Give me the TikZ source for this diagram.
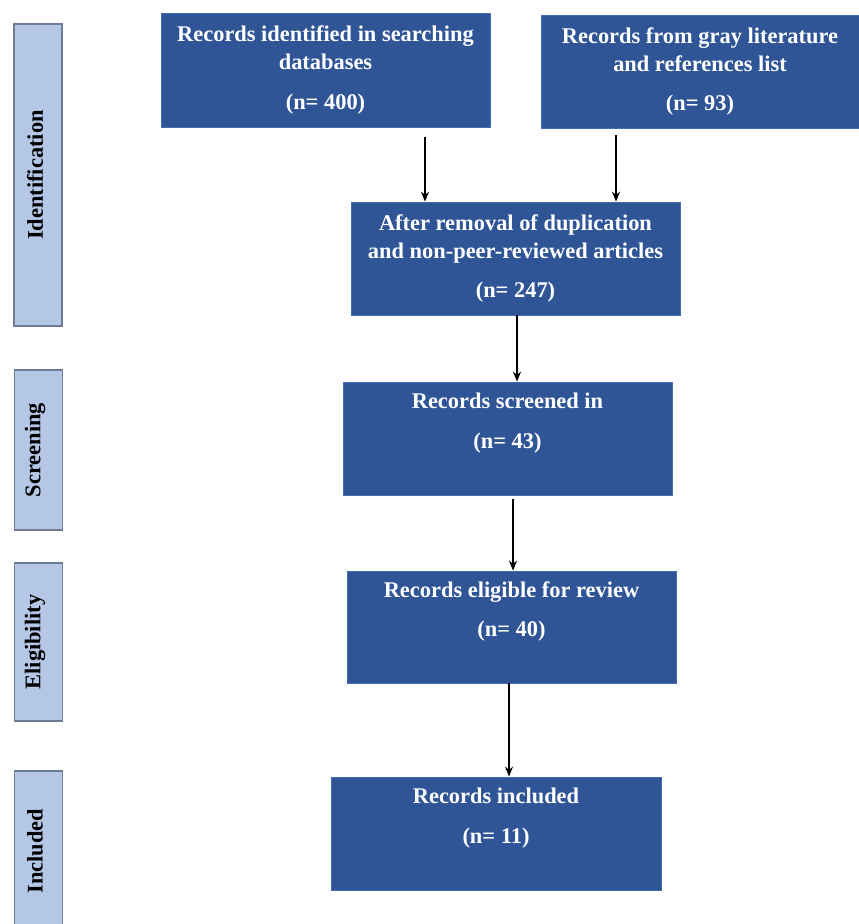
\documentclass[tikz,border=0pt]{standalone}
\usepackage{fontspec}
\setmainfont{Liberation Serif}
\usetikzlibrary{arrows.meta}
\definecolor{boxblue}{RGB}{47,85,151}
\definecolor{boxedge}{RGB}{68,108,180}
\definecolor{sidefill}{RGB}{180,199,231}
\definecolor{sideedge}{RGB}{110,124,150}
\begin{document}
\begin{tikzpicture}[x=1bp,y=-1bp,
  flowbox/.style={rectangle,fill=boxblue,draw=boxedge,line width=0.8bp,
    text=white,align=center,inner sep=0pt,
    font=\fontsize{22.5}{28}\selectfont\bfseries},
  sidebar/.style={rectangle,fill=sidefill,draw=sideedge,line width=1.2bp,
    minimum width=48bp,inner sep=0pt},
  sidelabel/.style={rotate=90,font=\fontsize{22.5}{26}\selectfont\bfseries,text=black},
  arr/.style={-{Stealth[length=10bp,width=8bp]},line width=1.3bp,black}]
\useasboundingbox (0,0) rectangle (859,924);
\fill[white] (0,0) rectangle (859,924);

% side bars
\node[sidebar,minimum height=302bp] (s1) at (38,175) {};
\node[sidelabel] (l1) at (35,175) {Identification};
\node[sidebar,minimum height=160bp] (s2) at (38.5,450) {};
\node[sidelabel] (l2) at (35,450) {Screening};
\node[sidebar,minimum height=158bp] (s3) at (38.5,642) {};
\node[sidelabel] (l3) at (35,642) {Eligibility};
\node[sidebar,minimum height=160bp] (s4) at (38.5,851) {};
\node[sidelabel] (l4) at (35,851) {Included};

% flow boxes
\node[flowbox,minimum width=329bp,minimum height=114bp] (b1) at (325.5,70)
  {Records identified in searching\\databases\\[12bp](n= 400)};
\node[flowbox,minimum width=318bp,minimum height=113bp] (b2) at (700,71.5)
  {Records from gray literature\\and references list\\[12bp](n= 93)};
\node[flowbox,minimum width=329bp,minimum height=113bp] (b3) at (515.5,258.5)
  {After removal of duplication\\and non-peer-reviewed articles\\[12bp](n= 247)};
\node[flowbox,minimum width=329bp,minimum height=113bp] (b4) at (507.5,438.5)
  {Records screened in\\[12bp](n= 43)\\[8bp]};
\node[flowbox,minimum width=329bp,minimum height=112bp] (b5) at (511.5,627)
  {Records eligible for review\\[12bp](n= 40)\\[8bp]};
\node[flowbox,minimum width=330bp,minimum height=113bp] (b6) at (496,833.5)
  {Records included\\[12bp](n= 11)\\[8bp]};

% connectors
\draw[arr] ([xshift=99.5bp,yshift=-10bp]b1.south) -- ([xshift=99.5bp]b1.south |- b3.north);
\draw[arr] ([xshift=-84bp,yshift=-7bp]b2.south) -- ([xshift=-84bp]b2.south |- b3.north);
\draw[arr] ([xshift=1.5bp]b3.south) -- ([xshift=1.5bp]b3.south |- b4.north);
\draw[arr] ([xshift=5.5bp,yshift=-4bp]b4.south) -- ([xshift=5.5bp]b4.south |- b5.north);
\draw[arr] ([xshift=-2.5bp]b5.south) -- ([xshift=-2.5bp]b5.south |- b6.north);
\end{tikzpicture}
\end{document}
